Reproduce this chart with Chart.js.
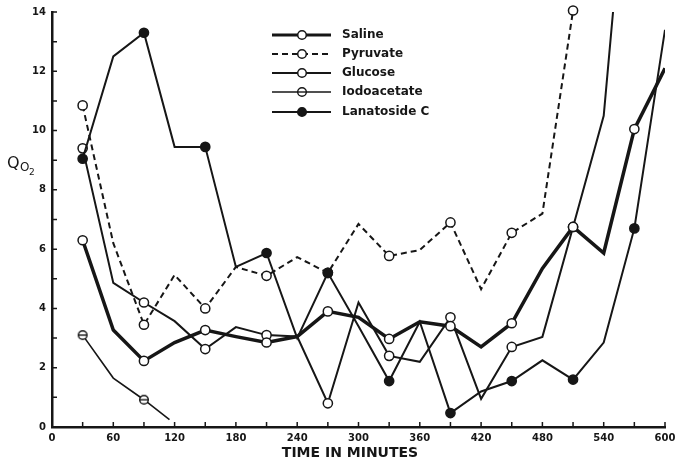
<!DOCTYPE html>
<html>
<head>
<meta charset="utf-8">
<script src="https://cdn.jsdelivr.net/npm/chart.js@4/dist/chart.umd.min.js"></script>
<style>
  html, body { margin: 0; padding: 0; background: #fff; }
</style>
</head>
<body>
<canvas id="qo2Chart" width="681" height="462"></canvas>
<script>
// sampling times (minutes); odd half-hours carry a marker
const times = [30, 60, 90, 120, 150, 180, 210, 240, 270, 300, 330, 360, 390, 420, 450, 480, 510, 540, 570, 600];

const saline     = [6.3, 3.27, 2.23, 2.85, 3.27, 3.05, 2.85, 3.05, 3.9, 3.7, 2.97, 3.55, 3.4, 2.7, 3.5, 5.35, 6.75, 5.87, 10.05, 12.1];
const pyruvate   = [10.85, 6.2, 3.45, 5.13, 4.0, 5.4, 5.1, 5.73, 5.2, 6.85, 5.77, 5.97, 6.9, 4.65, 6.55, 7.2, 14.05, null, null, null];
const glucose    = [9.4, 4.86, 4.2, 3.57, 2.63, 3.37, 3.1, 3.05, 0.8, 4.2, 2.4, 2.2, 3.7, 0.95, 2.7, 3.04, 6.75, 10.5, 22, null];
const lanatoside = [9.05, 12.5, 13.3, 9.45, 9.45, 5.4, 5.87, 3.0, 5.2, 3.4, 1.55, 3.55, 0.47, 1.2, 1.55, 2.25, 1.6, 2.85, 6.7, 13.4];

// iodoacetate stops early
const iodoTimes   = [30, 60, 90, 115];
const iodoacetate = [3.1, 1.65, 0.92, 0.25];

const xTickLabels = [0, 60, 120, 180, 240, 300, 360, 420, 480, 540, 600];
const yTickLabels = [0, 2, 4, 6, 8, 10, 12, 14];

const INK = '#161616';
const FONT = 'DejaVu Sans';

function toPoints(xs, ys) {
    return xs.map((t, i) => ({ x: t, y: ys[i] })).filter(p => p.y !== null);
}

// circle with a bar through it, for iodoacetate
function makeThetaMarker() {
    const c = document.createElement('canvas');
    c.width = 12; c.height = 12;
    const g = c.getContext('2d');
    g.fillStyle = '#fff';
    g.strokeStyle = INK;
    g.lineWidth = 1.4;
    g.beginPath();
    g.arc(6, 6, 4.3, 0, Math.PI * 2);
    g.fill();
    g.stroke();
    g.beginPath();
    g.moveTo(1.5, 6);
    g.lineTo(10.5, 6);
    g.stroke();
    return c;
}
const thetaMarker = makeThetaMarker();

const markerRadius = ctx => (ctx.raw && ctx.raw.x % 60 === 30 ? 4.6 : 0);

function series(label, xs, ys, extra) {
    return Object.assign({
        label: label,
        data: toPoints(xs, ys),
        borderColor: INK,
        borderWidth: 2,
        pointStyle: 'circle',
        pointRadius: markerRadius,
        pointBackgroundColor: '#fff',
        pointBorderColor: INK,
        pointBorderWidth: 1.5,
        tension: 0,
        fill: false
    }, extra || {});
}

const datasets = [
    series('Saline', times, saline, { borderWidth: 3.5 }),
    series('Pyruvate', times, pyruvate, { borderDash: [6, 4], clip: false }),
    series('Glucose', times, glucose, { borderWidth: 2 }),
    series('Iodoacetate', iodoTimes, iodoacetate, { borderWidth: 1.6, pointStyle: thetaMarker }),
    series('Lanatoside C', times, lanatoside, { pointBackgroundColor: INK, order: -1 })
];

function drawLegendMarker(ctx, ds, x, y) {
    if (ds.pointStyle !== 'circle') {
        ctx.drawImage(ds.pointStyle, x - 6, y - 6);
        return;
    }
    ctx.beginPath();
    ctx.arc(x, y, 4.3, 0, Math.PI * 2);
    ctx.fillStyle = ds.pointBackgroundColor;
    ctx.fill();
    ctx.lineWidth = 1.5;
    ctx.strokeStyle = INK;
    ctx.stroke();
}

const decorations = {
    id: 'decorations',
    afterDraw(chart) {
        const { ctx, chartArea, scales: { x, y } } = chart;
        ctx.save();

        // inward tick marks
        ctx.strokeStyle = INK;
        ctx.lineWidth = 1.5;
        ctx.beginPath();
        for (let t = 30; t <= 600; t += 30) {
            const px = x.getPixelForValue(t);
            ctx.moveTo(px, chartArea.bottom);
            ctx.lineTo(px, chartArea.bottom - 5);
        }
        for (let v = 1; v <= 14; v++) {
            const py = y.getPixelForValue(v);
            ctx.moveTo(chartArea.left, py);
            ctx.lineTo(chartArea.left + 5, py);
        }
        ctx.stroke();

        // axis titles
        ctx.fillStyle = INK;
        ctx.textAlign = 'center';
        ctx.textBaseline = 'middle';
        ctx.font = 'bold 14px ' + FONT;
        ctx.fillText('TIME IN MINUTES', 350, 453);

        ctx.textBaseline = 'alphabetic';
        ctx.textAlign = 'left';
        ctx.font = '16px ' + FONT;
        ctx.fillText('Q', 7, 168);
        ctx.font = '12px ' + FONT;
        ctx.fillText('O', 20, 171);
        ctx.font = '9px ' + FONT;
        ctx.fillText('2', 29, 175);

        // legend
        const rows = [35, 54, 73, 92, 112];
        chart.data.datasets.forEach((ds, i) => {
            const ly = rows[i];
            ctx.beginPath();
            ctx.setLineDash(ds.borderDash || []);
            ctx.lineWidth = Math.min(ds.borderWidth, 3);
            ctx.strokeStyle = INK;
            ctx.moveTo(272, ly);
            ctx.lineTo(331, ly);
            ctx.stroke();
            ctx.setLineDash([]);
            drawLegendMarker(ctx, ds, 302, ly);
            ctx.fillStyle = INK;
            ctx.font = 'bold 12px ' + FONT;
            ctx.textBaseline = 'middle';
            ctx.fillText(ds.label, 342, ly);
        });

        ctx.restore();
    }
};

new Chart(document.getElementById('qo2Chart'), {
    type: 'line',
    data: { datasets: datasets },
    options: {
        responsive: false,
        animation: false,
        events: [],
        layout: { padding: { top: 12, right: 16, left: 0, bottom: 0 } },
        plugins: {
            legend: { display: false },
            tooltip: { enabled: false }
        },
        scales: {
            x: {
                type: 'linear',
                min: 0,
                max: 600,
                afterFit: s => { s.height = 35; },
                afterBuildTicks: s => { s.ticks = xTickLabels.map(v => ({ value: v })); },
                grid: { display: false, drawTicks: false },
                border: { color: INK, width: 2.5 },
                ticks: {
                    padding: 5,
                    color: INK,
                    maxRotation: 0,
                    autoSkip: false,
                    font: { family: FONT, size: 10, weight: 'bold' }
                }
            },
            y: {
                type: 'linear',
                min: 0,
                max: 14,
                afterFit: s => { s.width = 52; },
                afterBuildTicks: s => { s.ticks = yTickLabels.map(v => ({ value: v })); },
                grid: { display: false, drawTicks: false },
                border: { color: INK, width: 2.5 },
                ticks: {
                    padding: 6,
                    color: INK,
                    autoSkip: false,
                    font: { family: FONT, size: 10, weight: 'bold' }
                }
            }
        }
    },
    plugins: [decorations]
});
</script>
</body>
</html>
